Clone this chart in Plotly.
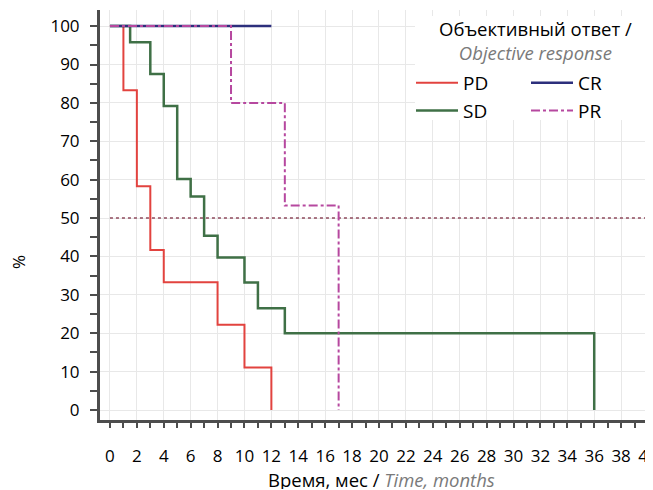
import plotly.graph_objects as go

# ---- data ----
pd_time = [0, 1, 2, 3, 4, 8, 10, 12]
pd_surv = [100, 83.3, 58.3, 41.7, 33.3, 22.2, 11.1, 0]

sd_time = [0, 1.5, 3, 4, 5, 6, 7, 8, 10, 11, 13, 36]
sd_surv = [100, 95.8, 87.5, 79.2, 60.2, 55.6, 45.4, 39.7, 33.2, 26.5, 20.0, 0]

cr_time = [0, 12]
cr_surv = [100, 100]

pr_time = [0, 9, 13, 17]
pr_surv = [100, 80, 53.3, 0]

median_level = 50
median_span = [0, 40]

x_ticks = list(range(0, 41, 2))
y_ticks = list(range(0, 101, 10))

FONT = "Open Sans"
AXIS_COLOR = "#4d4d4d"

# page has an 8px body margin; figure is sized to fill the remaining window
OFF = 8
W, H = 653 - OFF, 490 - OFF
ML, MR, MT, MB = 100 - OFF, 0, 10 - OFF, 70
PW, PH = W - ML - MR, H - MT - MB


def px_x(px):
    """page x pixel -> paper coordinate"""
    return (px - OFF - ML) / PW


def px_y(py):
    """page y pixel -> paper coordinate"""
    return 1 - (py - OFF - MT) / PH


fig = go.Figure()

fig.add_trace(go.Scatter(x=median_span, y=[median_level] * 2, mode="lines",
                         line=dict(color="#8f4a5c", width=1.5, dash="dot"),
                         showlegend=False, hoverinfo="skip"))

fig.add_trace(go.Scatter(x=pd_time, y=pd_surv, mode="lines", line_shape="hv",
                         name="PD", line=dict(color="#e2433f", width=2), legend="legend"))
fig.add_trace(go.Scatter(x=sd_time, y=sd_surv, mode="lines", line_shape="hv",
                         name="SD", line=dict(color="#3f7046", width=2.5), legend="legend"))
fig.add_trace(go.Scatter(x=cr_time, y=cr_surv, mode="lines", line_shape="hv",
                         name="CR", line=dict(color="#2c2f7c", width=2.5), legend="legend2"))
fig.add_trace(go.Scatter(x=pr_time, y=pr_surv, mode="lines", line_shape="hv",
                         name="PR", line=dict(color="#b6489f", width=2, dash="dashdot"),
                         legend="legend2"))

# white box behind the legend
fig.add_shape(type="rect", xref="paper", yref="paper", x0=px_x(415), x1=1.0,
              y0=px_y(120), y1=px_y(16),
              fillcolor="white", line=dict(width=0), layer="above")

fig.add_annotation(xref="paper", yref="paper", x=px_x(535), y=px_y(14),
                   xanchor="center", yanchor="top", showarrow=False, align="center",
                   text="Объективный ответ /<br><i><span style='color:#7a7a7a'>Objective response</span></i>",
                   font=dict(family=FONT, size=18.5, color="black"))

# axis titles
fig.add_annotation(xref="paper", yref="paper", x=px_x(381), y=px_y(479),
                   xanchor="center", yanchor="middle", showarrow=False, height=20,
                   text="Время, мес / <i><span style='color:#7a7a7a'>Time, months</span></i>",
                   font=dict(family=FONT, size=18.5, color="black"))
fig.add_annotation(xref="paper", yref="paper", x=px_x(18), y=px_y(262),
                   xanchor="center", yanchor="middle", showarrow=False, textangle=-90,
                   text="%", font=dict(family=FONT, size=17, color="black"))

legend_common = dict(orientation="v", bgcolor="rgba(0,0,0,0)", yanchor="top",
                     font=dict(family=FONT, size=19, color="black"), itemwidth=42,
                     tracegroupgap=0)

fig.update_layout(
    width=W, height=H,
    margin=dict(l=ML, r=MR, t=MT, b=MB, autoexpand=False),
    paper_bgcolor="white", plot_bgcolor="white",
    font=dict(family=FONT, size=17, color="black"),
    legend=dict(x=px_x(411), y=px_y(64), **legend_common),
    legend2=dict(x=px_x(526), y=px_y(64), **legend_common),
    xaxis=dict(range=[-0.74, 40.37], tickmode="array", tickvals=x_ticks,
               ticktext=[str(v) for v in x_ticks], ticks="outside", ticklen=5, tickwidth=2,
               tickcolor=AXIS_COLOR, showline=True, linecolor=AXIS_COLOR, linewidth=3,
               showgrid=True, gridcolor="#e8e8e8", gridwidth=1, zeroline=False,
               automargin=False, ticklabeloverflow="allow",
               tickfont=dict(family=FONT, size=17, color="black"), ticklabelstandoff=14,
               minor=dict(dtick=1, tick0=0, ticks="outside", ticklen=5, tickwidth=2,
                          tickcolor=AXIS_COLOR, showgrid=False)),
    yaxis=dict(range=[-2.6, 104.2], tickmode="array", tickvals=y_ticks,
               ticktext=[str(v) for v in y_ticks], ticks="outside", ticklen=7, tickwidth=2,
               tickcolor=AXIS_COLOR, showline=True, linecolor=AXIS_COLOR, linewidth=3,
               showgrid=True, gridcolor="#e8e8e8", gridwidth=1, zeroline=False,
               automargin=False,
               tickfont=dict(family=FONT, size=17, color="black"), ticklabelstandoff=7,
               minor=dict(dtick=5, tick0=0, ticks="outside", ticklen=7, tickwidth=2,
                          tickcolor=AXIS_COLOR, showgrid=False)),
)

fig.write_html("out.html")
